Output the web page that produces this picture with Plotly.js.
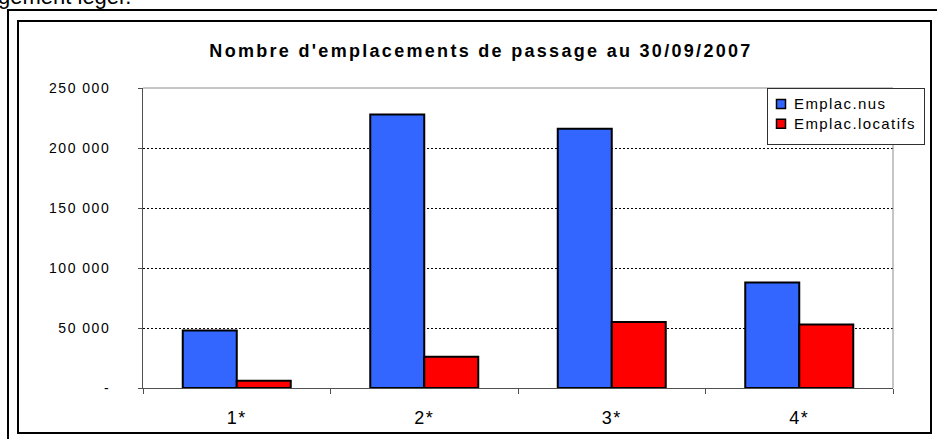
<!DOCTYPE html>
<html>
<head>
<meta charset="utf-8">
<script src="https://cdn.plot.ly/plotly-3.0.1.min.js"></script>
<style>
  html, body { margin: 0; padding: 0; background: #ffffff; overflow: hidden; }
  #wrap { position: relative; width: 937px; height: 439px; overflow: hidden; }
  #outer { position: absolute; left: 7px; top: 9px; width: 960px; height: 460px; border: 2px solid #000; box-sizing: border-box; }
  #inner { position: absolute; left: 17px; top: 20px; width: 915px; height: 414px; border: 2px solid #000; box-sizing: border-box; }
  #topText { position: absolute; left: -2px; top: -14px; font-family: "Liberation Sans", Arial, sans-serif; font-size: 22px; line-height: 22px; color: #000; white-space: nowrap; }
  #chart { position: absolute; left: 0; top: 0; width: 937px; height: 439px; }
  .gtitle { letter-spacing: 2.3px; }
  .ytick text { letter-spacing: 1.5px; }
  .xtick text { letter-spacing: 1.5px; }
  .legend .scrollbox { clip-path: none !important; }
  .legend .legendtext { font-size: 15px !important; letter-spacing: 1.4px; transform: translateX(-14px); }
  .legend rect.bg { width: 157px; height: 56px; }
  .legend .legendpoints path { transform: translate(13px, 0px) scale(0.75); }
</style>
</head>
<body>
<div id="wrap">
  <div id="topText">gement léger.</div>
  <div id="outer"></div>
  <div id="inner"></div>
  <div id="chart"></div>
</div>
<script>
// ---- data ----
var categories = ["1*", "2*", "3*", "4*"];
var seriesNames = ["Emplac.nus", "Emplac.locatifs"];
var emplacNus = [48000, 228000, 216000, 88000];
var emplacLocatifs = [6000, 26000, 55000, 53000];
var yTickValues = [0, 50000, 100000, 150000, 200000, 250000];
var yTickLabels = ["-", "50 000", "100 000", "150 000", "200 000", "250 000"];
var chartTitle = "Nombre d'emplacements de passage au 30/09/2007";

var font = "Liberation Sans, Arial, sans-serif";

var traces = [
  {
    type: "bar",
    name: seriesNames[0],
    x: categories,
    y: emplacNus,
    marker: { color: "#3366FF", line: { color: "#000000", width: 2 } },
    hoverinfo: "x+y"
  },
  {
    type: "bar",
    name: seriesNames[1],
    x: categories,
    y: emplacLocatifs,
    marker: { color: "#FF0000", line: { color: "#000000", width: 2 } },
    hoverinfo: "x+y"
  }
];

var layout = {
  width: 937,
  height: 439,
  margin: { l: 143, r: 44, t: 88, b: 51, pad: 0 },
  paper_bgcolor: "rgba(0,0,0,0)",
  plot_bgcolor: "#ffffff",
  barmode: "group",
  bargap: 0.424,
  bargroupgap: 0,
  showlegend: true,
  title: {
    text: chartTitle,
    font: { family: font, size: 18, color: "#000000", weight: "bold" },
    xref: "container", yref: "container",
    x: 481 / 937, xanchor: "center",
    y: 1 - 51 / 439, yanchor: "middle"
  },
  xaxis: {
    type: "category",
    tickson: "boundaries",
    ticks: "outside",
    ticklen: 5,
    tickwidth: 1,
    tickcolor: "#505050",
    showline: true,
    linecolor: "#505050",
    linewidth: 1,
    showgrid: false,
    zeroline: false,
    tickfont: { family: font, size: 18, color: "#000000" },
    ticklabelstandoff: 13,
    automargin: false,
    fixedrange: true
  },
  yaxis: {
    range: [0, 250000],
    tickmode: "array",
    tickvals: yTickValues,
    ticktext: yTickLabels,
    ticks: "outside",
    ticklen: 4,
    tickwidth: 1,
    tickcolor: "#505050",
    showline: true,
    linecolor: "#505050",
    linewidth: 1,
    showgrid: true,
    gridcolor: "#000000",
    gridwidth: 1,
    griddash: "2px,2px",
    zeroline: false,
    tickfont: { family: font, size: 14, color: "#000000" },
    ticklabelstandoff: 25,
    automargin: false,
    fixedrange: true
  },
  legend: {
    x: (767 - 143) / 750,
    y: 1,
    xanchor: "left",
    yanchor: "top",
    bgcolor: "#ffffff",
    bordercolor: "#303030",
    borderwidth: 1,
    font: { family: font, size: 13, color: "#000000" },
    tracegroupgap: 0
  },
  shapes: [
    {
      type: "line", xref: "paper", yref: "paper",
      x0: 0, x1: 1, y0: 1, y1: 1,
      line: { color: "#8c8c8c", width: 1 }, layer: "above"
    },
    {
      type: "line", xref: "paper", yref: "paper",
      x0: 1, x1: 1, y0: 0, y1: 1,
      line: { color: "#8c8c8c", width: 1 }, layer: "above"
    }
  ]
};

Plotly.newPlot("chart", traces, layout, { displayModeBar: false, staticPlot: true });
</script>
</body>
</html>
